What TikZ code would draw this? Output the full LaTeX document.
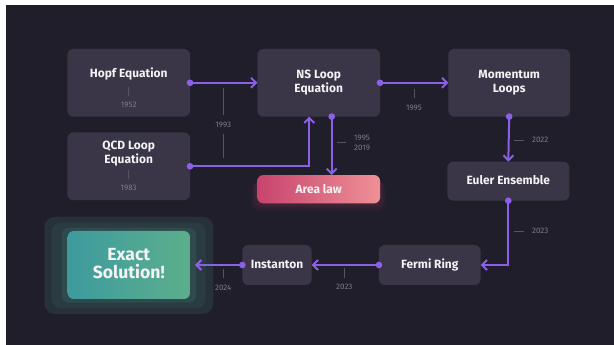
\documentclass[tikz,border=0pt]{standalone}
\usepackage{fontspec}
\setmainfont{Fira Sans}
\usetikzlibrary{arrows.meta, calc}

\definecolor{bgdark}{HTML}{1F1E2A}
\definecolor{boxfill}{HTML}{3A3648}
\definecolor{linkc}{HTML}{8B5FE6}
\definecolor{yearc}{HTML}{7E7B8A}
\definecolor{tickc}{HTML}{57545F}
\definecolor{glowa}{HTML}{26313A}
\definecolor{glowb}{HTML}{2A3C41}
\definecolor{glowc}{HTML}{2E4A4C}
\definecolor{areal}{HTML}{C8446E}
\definecolor{arear}{HTML}{EE9096}
\definecolor{exactl}{HTML}{3D9B9E}
\definecolor{exactr}{HTML}{5CAE8C}

\tikzset{
    box/.style={fill=boxfill, rounded corners=1.8mm, inner sep=0pt, outer sep=0pt,
        minimum width=36.8mm, minimum height=20.3mm},
    title/.style={text=white!94!boxfill, font=\bfseries\fontsize{10.2}{11.6}\selectfont,
        align=center},
    year/.style={text=yearc, font=\fontsize{6.8}{8.2}\selectfont, align=center},
    tick/.style={draw=tickc, line width=0.6pt},
    link/.style={draw=linkc, line width=1.7pt, -{Straight Barb[length=1.5mm, width=3mm]}},
    dot/.style={fill=linkc}
}

\begin{document}
\begin{tikzpicture}[x=0.3mm, y=-0.3mm]
    % page
    \fill [white] (0, 0) rectangle (614, 345);
    \fill [bgdark] (6, 5) rectangle (614, 345);
    \useasboundingbox (0, 0) rectangle (614, 345);

    % glow round the result
    \fill [glowa, rounded corners=3.2mm] (44.3, 216.7) rectangle (213.3, 314);
    \fill [glowb, rounded corners=2.8mm] (51.7, 222.7) rectangle (205.7, 308.3);
    \fill [glowc, rounded corners=2.2mm] (61.7, 227.7) rectangle (196, 302.7);

    % glow below the area law
    \foreach \g in {1,...,6}
        \fill [areal, opacity=0.04, rounded corners=2.5mm]
            (257.3-\g, 176+\g) rectangle (380+\g, 203.3+1.4*\g);

    % boxes
    \node (hopf) [box] at (128.7, 82.8) {};
    \node (qcd) [box] at (128.7, 166.3) {};
    \node (ns) [box] at (318.7, 82.8) {};
    \node (mom) [box, minimum width=36.5mm] at (509.2, 82.8) {};
    \node (euler) [box, minimum width=36.6mm, minimum height=11.7mm] at (508.3, 181.2) {};
    \node (area) [box, minimum height=8.5mm, left color=areal, right color=arear]
        at (318.7, 189.2) {};
    \node (fermi) [box, minimum width=30.5mm, minimum height=12mm] at (429.8, 265) {};
    \node (inst) [box, minimum width=20.8mm, minimum height=12mm] at (277, 265) {};
    \node (exact) [box, minimum width=36.7mm, minimum height=20.4mm,
        left color=exactl, right color=exactr] at (128.8, 265) {};

    % titles
    \node (thopf) [title] at (128.7, 74.3) {Hopf Equation};
    \node (tqcd) [title] at (128.7, 153.3) {QCD Loop\\Equation};
    \node (tns) [title] at (318.7, 82.8) {NS Loop\\Equation};
    \node (tmom) [title] at (509.2, 82.8) {Momentum\\Loops};
    \node (teuler) [title] at (508.3, 180.5) {Euler Ensemble};
    \node (tarea) [title] at (318.7, 188.6) {Area law};
    \node (tfermi) [title] at (429.8, 264.5) {Fermi Ring};
    \node (tinst) [title] at (277, 264.5) {Instanton};
    \node (texact) [title, font=\bfseries\fontsize{15}{16}\selectfont] at (128.8, 263.5)
        {Exact\\Solution!};

    % years
    \draw [tick] (128.7, 86.7) -- (128.7, 95.7);
    \node (y1952) [year] at (128.7, 105) {1952};
    \draw [tick] (128.7, 170) -- (128.7, 179);
    \node (y1983) [year] at (128.7, 187.7) {1983};
    \draw [tick] (223.3, 87.7) -- (223.3, 115);
    \draw [tick] (223.3, 134.3) -- (223.3, 157.7);
    \node (y1993) [year] at (223.3, 125) {1993};
    \draw [tick] (336.7, 142.7) -- (346, 142.7);
    \node (y2019) [year, anchor=west] at (350, 143) {1995\\2019};
    \draw [tick] (414, 89.3) -- (414, 98.3);
    \node (y1995) [year] at (414, 108.3) {1995};
    \draw [tick] (514, 140) -- (524, 140);
    \node (y2022) [year, anchor=west] at (528, 140) {2022};
    \draw [tick] (514, 231) -- (524, 231);
    \node (y2023a) [year, anchor=west] at (528, 231) {2023};
    \draw [tick] (344.3, 268.3) -- (344.3, 278.3);
    \node (y2023b) [year] at (344.3, 287.3) {2023};
    \draw [tick] (223.3, 269) -- (223.3, 278.3);
    \node (y2024) [year] at (223.3, 287.7) {2024};

    % connectors
    \draw [link] (hopf.east) -- (ns.west);
    \draw [link] (qcd.east) -| ($(ns.south)+(-9.4, 0)$);
    \draw [link] ($(ns.south)+(13, 0)$) -- ($(area.north)+(13, 0)$);
    \draw [link] (ns.east) -- (mom.west);
    \draw [link] (mom.south) -- (euler.north);
    \draw [link] (euler.south) |- (fermi.east);
    \draw [link] (fermi.west) -- (inst.east);
    \draw [link] (inst.west) -- ($(exact.east)+(5, 0)$);

    % dots
    \fill [dot] (hopf.east) circle (1mm);
    \fill [dot] (qcd.east) circle (1mm);
    \fill [dot] ($(ns.south)+(13, 0)$) circle (1mm);
    \fill [dot] (ns.east) circle (1mm);
    \fill [dot] (mom.south) circle (1mm);
    \fill [dot] (euler.south) circle (1mm);
    \fill [dot] (fermi.west) circle (1mm);
    \fill [dot] (inst.west) circle (1mm);
\end{tikzpicture}
\end{document}
